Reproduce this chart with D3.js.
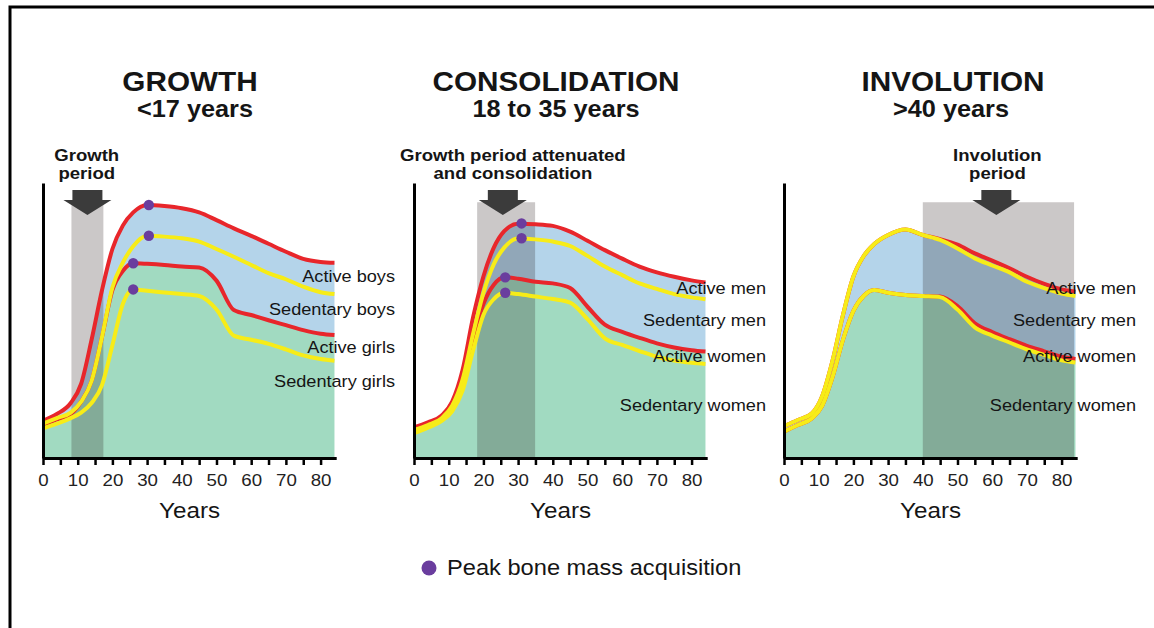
<!DOCTYPE html>
<html>
<head>
<meta charset="utf-8">
<script src="https://cdn.jsdelivr.net/npm/d3@7"></script>
<style>
    body { margin: 0; background: #fff; }
    svg { display: block; font-family: "Liberation Sans", Arial, sans-serif; }
</style>
</head>
<body>
<div id="chart"></div>
<script>
const AGES = [0, 4, 8, 11, 14, 17, 20, 23, 26, 30, 35, 40, 45, 50, 55, 60, 65, 70, 75, 80, 84];

// GROWTH panel (bone mass, 0-100 of the axis height)
const growthActiveBoys     = [13.5, 16, 20, 27, 43, 61, 76, 84.5, 89.3, 92, 91.6, 90.8, 89.3, 86.5, 83.5, 80.8, 77.9, 75, 72.4, 71.3, 71];
const growthSedentaryBoys  = [12.5, 14.5, 16.5, 20.5, 28, 44, 62, 71, 77, 80.8, 80.5, 79.9, 78.7, 76, 73.2, 70.2, 67.2, 65, 62.3, 60.3, 59.6];
const growthActiveGirls    = [12, 14, 16, 20.5, 28, 44, 61, 68, 70.8, 70.6, 70.2, 69.6, 69.3, 64.5, 53.8, 52, 50.1, 48.3, 46.5, 45.2, 44.7];
const growthSedentaryGirls = [10.8, 12.5, 14.5, 16.5, 20, 26.5, 41, 56, 61.3, 60.8, 60.2, 59.6, 58.9, 54, 44.5, 43, 41.5, 39.5, 37.3, 36, 35.4];

// CONSOLIDATION panel
const consActiveMen      = [11.2, 13, 15.5, 20.5, 32, 51, 66, 76.5, 82.5, 85.2, 85, 84.4, 82.3, 79, 75.6, 72.5, 69.6, 67.5, 65.9, 64.6, 63.8];
const consSedentaryMen   = [10.2, 12, 14.5, 19, 28.5, 45, 60, 70.5, 76.5, 79.8, 79.5, 78.7, 77.1, 73.5, 69.6, 66.5, 63.5, 61.5, 59.6, 58.4, 57.7];
const consActiveWomen    = [10.8, 12.5, 15, 20, 27, 43, 56, 63, 65.7, 65.2, 64.1, 63.5, 61.8, 55, 48.5, 45.9, 43.7, 41.7, 40.2, 39.2, 38.7];
const consSedentaryWomen = [9, 11, 13.5, 17, 24.5, 39, 52, 57.8, 60.1, 59.6, 58.7, 57.8, 56.5, 50.5, 43.5, 41.1, 38.9, 36.8, 35.4, 34.6, 34.2];

// INVOLUTION panel
const invActiveMen      = [11.6, 13.8, 16.2, 22.5, 35.5, 52, 66, 73.5, 77.8, 81.1, 83.1, 81.1, 79.6, 77.6, 74.4, 71.8, 69, 65.9, 63.3, 61.3, 60.5];
const invSedentaryMen   = [11.6, 13.8, 16.2, 22.5, 35.5, 52, 66, 73.5, 77.8, 81.1, 83.1, 81.1, 79.3, 76.2, 72.6, 70, 67.5, 64.1, 61.8, 59.8, 58.9];
const invActiveWomen    = [9.6, 12, 14.4, 19, 29.5, 43, 53.5, 59, 61.1, 60.1, 59.3, 58.9, 58.7, 55.2, 49, 45.8, 43.2, 40.8, 38.8, 36.8, 36];
const invSedentaryWomen = [9.6, 12, 14.4, 19, 29.5, 43, 53.5, 59, 61.1, 60.1, 59.3, 58.9, 58.5, 54, 47.5, 44.5, 42, 39.5, 37.5, 35.5, 34.7];

// Peak bone mass dots [age, value]
const growthPeaks = [[30.5, 92], [30.5, 80.8], [26, 70.8], [26, 61.3]];
const consPeaks   = [[31, 85.3], [31, 79.9], [26.3, 65.7], [26.3, 60.1]];
const invPeaks    = [];

// Shaded periods [from, to] in years, arrow position, label position
const periodBands = [[8.2, 17.4], [18.2, 34.9], [40, 83.6]];
const arrowAges   = [12.8, 25.6, 61.2];
const periodLabelAges = [12.6, 28.5, 61.5];
const periodLabels = [["Growth", "period"], ["Growth period attenuated", "and consolidation"], ["Involution", "period"]];

const titles    = ["GROWTH", "CONSOLIDATION", "INVOLUTION"];
const subtitles = ["<17 years", "18 to 35 years", ">40 years"];
const curveLabels = [
    ["Active boys", "Sedentary boys", "Active girls", "Sedentary girls"],
    ["Active men", "Sedentary men", "Active women", "Sedentary women"],
    ["Active men", "Sedentary men", "Active women", "Sedentary women"]
];
const xTicks = d3.range(0, 85, 5);

// Layout
const width = 1154, height = 628;
const panelLeft = [43, 414, 784];
const panelTop = 183, plotH = 275;
const titleX = [190, 556, 953], subX = [195, 556, 951];
const labelBaselines = [[281.7, 315, 353.3, 386.7], [294, 326, 361.7, 410.7], [294, 326, 361.7, 410.7]];
const STRETCH = 1.1;

const RED = "#e8262b", YELLOW = "#f7ec18", BLUE = "#b4d4ea", GREEN = "#a1dac1", PURPLE = "#6a3d9e";

const svg = d3.select("#chart").append("svg")
    .attr("width", width)
    .attr("height", height);

// frame (top + left edge)
svg.append("path")
    .attr("d", `M10,${height} V7 H${width}`)
    .attr("fill", "none")
    .attr("stroke", "#000")
    .attr("stroke-width", 3);

// helper for slightly widened text like the original figure
function addText(parent, x, y, txt, size, weight, anchor, stretch) {
    return parent.append("text")
        .attr("transform", `translate(${x},${y}) scale(${stretch || STRETCH},1)`)
        .attr("text-anchor", anchor || "middle")
        .style("font-size", size + "px")
        .style("font-weight", weight || "normal")
        .attr("fill", "#151515")
        .text(txt);
}

const x = d3.scaleLinear().domain([0, 84.5]).range([0, 293.2]);
const y = d3.scaleLinear().domain([0, 100]).range([plotH, 0]);

const panels = [
    { top: growthActiveBoys, topY: growthSedentaryBoys, low: growthActiveGirls, lowY: growthSedentaryGirls, peaks: growthPeaks },
    { top: consActiveMen, topY: consSedentaryMen, low: consActiveWomen, lowY: consSedentaryWomen, peaks: consPeaks },
    { top: invActiveMen, topY: invSedentaryMen, low: invActiveWomen, lowY: invSedentaryWomen, peaks: invPeaks }
];

panels.forEach((p, i) => {
    const g = svg.append("g").attr("transform", `translate(${panelLeft[i]},${panelTop})`);
    const rows = AGES.map((a, k) => ({ age: a, top: p.top[k], low: p.low[k] }));

    // green under the lower red curve, blue between the red curves
    g.append("path")
        .datum(rows)
        .attr("fill", GREEN)
        .attr("d", d3.area().x(d => x(d.age)).y0(y(0)).y1(d => y(d.low)).curve(d3.curveMonotoneX));

    g.append("path")
        .datum(rows)
        .attr("fill", BLUE)
        .attr("d", d3.area().x(d => x(d.age)).y0(d => y(d.low)).y1(d => y(d.top)).curve(d3.curveMonotoneX));

    // period band
    const band = periodBands[i];
    g.append("rect")
        .attr("x", x(band[0]))
        .attr("width", x(band[1]) - x(band[0]))
        .attr("y", y(93))
        .attr("height", y(0) - y(93))
        .attr("fill", "#201416")
        .attr("opacity", 0.235);

    // arrow
    const ax = x(arrowAges[i]);
    g.append("path")
        .attr("d", `M${ax - 15},7 H${ax + 15} V17 H${ax + 24} L${ax},32 L${ax - 24},17 H${ax - 15} Z`)
        .attr("fill", "#3b3b3b");

    // curves: reds first, yellows on top
    const line = d3.line().x(d => x(d[0])).y(d => y(d[1])).curve(d3.curveMonotoneX);
    [[p.top, RED], [p.low, RED], [p.topY, YELLOW], [p.lowY, YELLOW]].forEach(([vals, col]) => {
        g.append("path")
            .datum(AGES.map((a, k) => [a, vals[k]]))
            .attr("fill", "none")
            .attr("stroke", col)
            .attr("stroke-width", 4)
            .attr("stroke-linejoin", "round")
            .attr("d", line);
    });

    // peak dots
    g.selectAll(".peak")
        .data(p.peaks)
        .enter()
        .append("circle")
        .attr("class", "peak")
        .attr("cx", d => x(d[0]))
        .attr("cy", d => y(d[1]))
        .attr("r", 5.2)
        .attr("fill", PURPLE);

    // axes
    const xAxis = g.append("g")
        .attr("transform", `translate(0,${plotH})`)
        .call(d3.axisBottom(x).tickValues(xTicks).tickSize(7).tickSizeOuter(0).tickPadding(9)
            .tickFormat(d => d % 10 === 0 ? d : ""))
        .attr("font-family", null)
        .attr("font-size", 17);
    xAxis.select(".domain").attr("stroke-width", 3);
    xAxis.selectAll(".tick line").attr("stroke-width", 2.5);
    xAxis.selectAll(".tick text").attr("fill", "#222").attr("transform", `scale(${STRETCH},1)`);

    const yAxis = g.append("g")
        .call(d3.axisLeft(y).tickValues([]).tickSizeOuter(0));
    yAxis.select(".domain").attr("stroke-width", 3);

    // axis title
    addText(svg, panelLeft[i] + x(84.5) / 2, 518, "Years", 22);

    // curve labels
    curveLabels[i].forEach((t, k) => {
        addText(svg, panelLeft[i] + 352, labelBaselines[i][k], t, 16.5, "normal", "end");
    });

    // period label (two lines)
    const lx = panelLeft[i] + x(periodLabelAges[i]);
    addText(svg, lx, 161, periodLabels[i][0], 16, "bold", "middle", 1.16);
    addText(svg, lx, 179, periodLabels[i][1], 16, "bold", "middle", 1.16);

    // panel titles
    addText(svg, titleX[i], 91, titles[i], 27, "bold");
    addText(svg, subX[i], 117, subtitles[i], 23, "bold");
});

// legend
svg.append("circle")
    .attr("cx", 429)
    .attr("cy", 568)
    .attr("r", 7.5)
    .attr("fill", PURPLE);
addText(svg, 447, 575, "Peak bone mass acquisition", 21.5, "normal", "start");
</script>
</body>
</html>
